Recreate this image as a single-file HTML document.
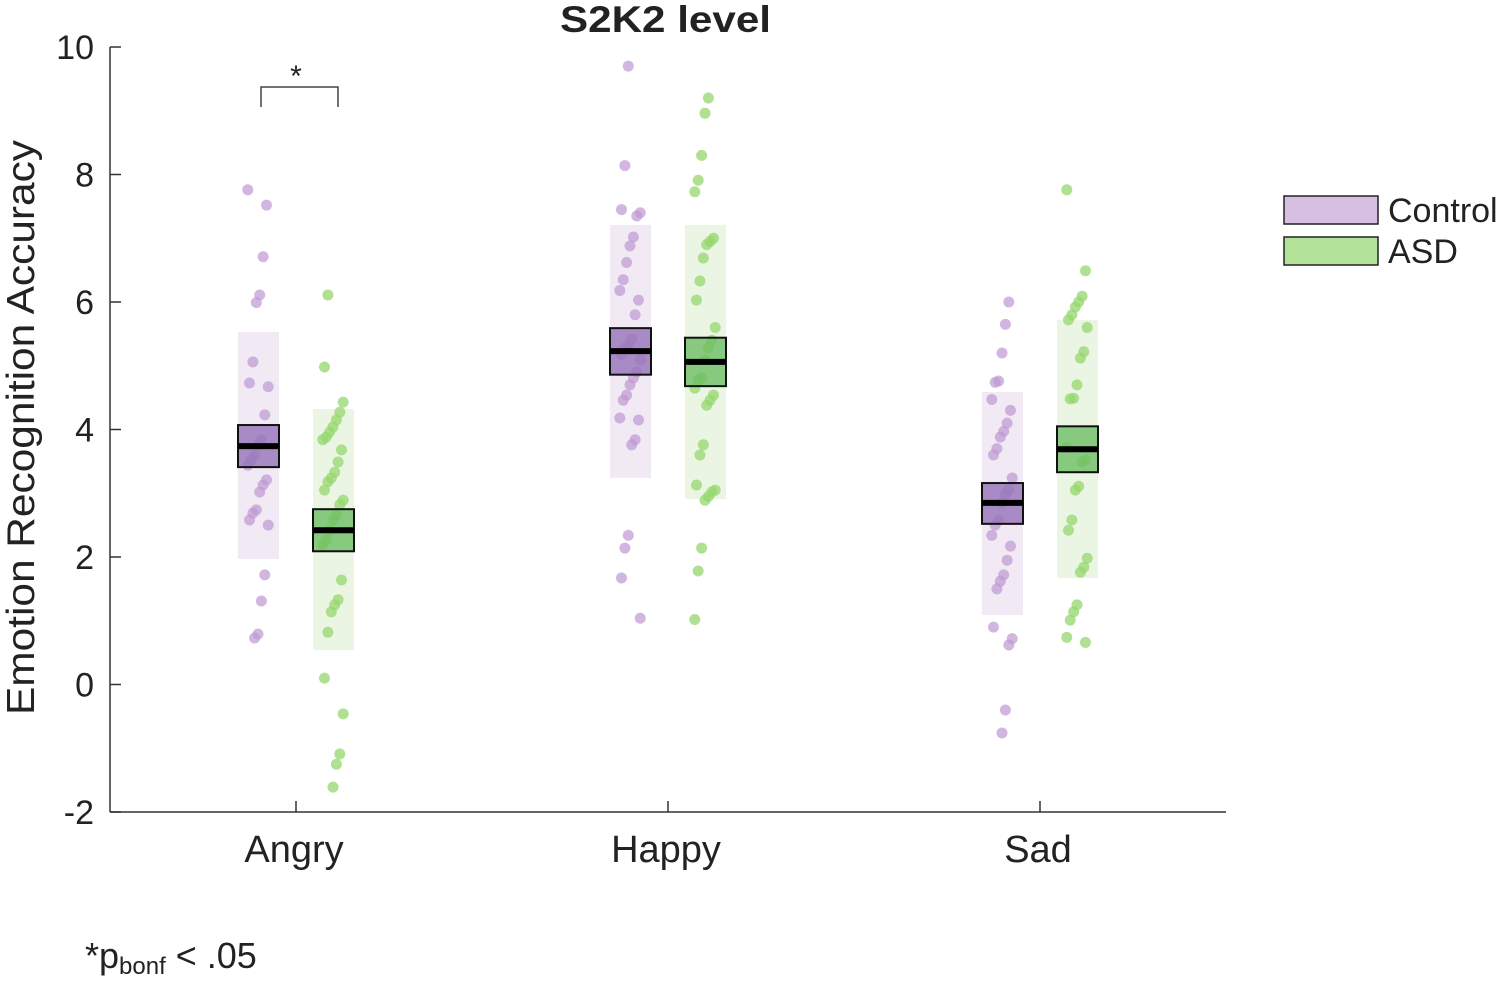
<!DOCTYPE html>
<html><head><meta charset="utf-8"><style>
body{margin:0;background:#fff;font-family:"Liberation Sans",sans-serif}
svg text{font-family:"Liberation Sans",sans-serif;fill:#222}
</style></head><body>
<svg id="chart" width="1499" height="976" xmlns="http://www.w3.org/2000/svg"></svg>
<script>
const categories=["Angry","Happy","Sad"];
const groups=["Control","ASD"];
const yTicks=[-2,0,2,4,6,8,10];
const angryControl=[7.76,7.52,6.71,6.11,5.99,5.06,4.73,4.67,4.23,3.84,3.76,3.60,3.52,3.44,3.21,3.13,3.02,2.74,2.69,2.58,2.50,1.72,1.31,0.79,0.73];
const angryASD=[6.11,4.98,4.43,4.27,4.15,4.04,3.96,3.88,3.84,3.68,3.49,3.33,3.24,3.18,3.05,2.89,2.82,2.66,2.58,2.42,2.27,2.19,1.64,1.33,1.25,1.14,0.82,0.10,-0.46,-1.09,-1.25,-1.61];
const happyControl=[9.70,8.14,7.45,7.40,7.35,7.02,6.88,6.62,6.35,6.18,6.03,5.80,5.42,5.32,5.28,5.17,5.09,4.90,4.81,4.70,4.54,4.46,4.18,4.15,3.84,3.76,2.34,2.14,1.67,1.04];
const happyASD=[9.20,8.96,8.30,7.91,7.73,7.00,6.95,6.90,6.69,6.33,6.03,5.60,5.40,5.28,5.09,4.81,4.78,4.65,4.54,4.46,4.38,3.76,3.60,3.13,3.05,3.02,2.95,2.89,2.14,1.78,1.02];
const sadControl=[6.00,5.65,5.20,4.76,4.74,4.47,4.30,4.10,3.97,3.88,3.70,3.60,3.24,3.05,2.99,2.85,2.58,2.50,2.34,2.17,1.95,1.72,1.62,1.50,0.90,0.72,0.62,-0.40,-0.76];
const sadASD=[7.76,6.49,6.09,6.00,5.92,5.80,5.72,5.60,5.22,5.12,4.70,4.49,4.48,3.72,3.52,3.49,3.11,3.05,2.58,2.42,1.98,1.84,1.76,1.25,1.14,1.01,0.74,0.66];
const pointSets=[[angryControl,angryASD],[happyControl,happyASD],[sadControl,sadASD]];
const means=[[3.74,2.42],[5.23,5.06],[2.85,3.69]];
const semHi=[[4.07,2.75],[5.59,5.44],[3.16,4.05]];
const semLo=[[3.41,2.09],[4.86,4.68],[2.52,3.33]];
const sdHi=[[5.53,4.32],[7.21,7.21],[4.59,5.72]];
const sdLo=[[1.97,0.54],[3.24,2.91],[1.09,1.67]];

const NS="http://www.w3.org/2000/svg";
const svg=document.getElementById("chart");
function el(t,a,txt){const e=document.createElementNS(NS,t);for(const k in a)e.setAttribute(k,a[k]);if(txt!==undefined)e.textContent=txt;svg.appendChild(e);return e;}
const y=v=>684.5-v*63.75;
const xCat=i=>296+i*372;
const gOff=[-38,37];
const ptCol=["rgba(190,152,210,0.7)","rgba(150,215,110,0.75)"];
const shadeCol=["#f1eaf4","#eaf6e3"];
const boxCol=["rgba(150,115,185,0.8)","rgba(110,190,100,0.8)"];

let a=el("line",{x1:110,y1:47,x2:110,y2:812,stroke:"#333","stroke-width":1.5});

a=el("line",{x1:110,y1:812,x2:1226,y2:812,stroke:"#333","stroke-width":1.5});

yTicks.forEach(t=>{
  el("line",{x1:110,y1:y(t),x2:121,y2:y(t),stroke:"#333","stroke-width":1.5});
  const tx=el("text",{x:94,y:y(t)+12,"text-anchor":"end","font-size":34},String(t));
  
  
});
categories.forEach((c,i)=>{
  el("line",{x1:xCat(i),y1:812,x2:xCat(i),y2:801,stroke:"#333","stroke-width":1.5});
  const tx=el("text",{x:xCat(i)-2,y:862,"text-anchor":"middle","font-size":38},c);
  
  
});
categories.forEach((c,i)=>{
  groups.forEach((g,j)=>{
    const cx=xCat(i)+gOff[j];
    const s=el("rect",{x:cx-20,y:y(sdHi[i][j]),width:41,height:y(sdLo[i][j])-y(sdHi[i][j]),fill:shadeCol[j]});
    
    
    pointSets[i][j].forEach((v,k)=>{
      const jit=((k*37+i*5+j*3)%13-6)*1.7;
      const p=el("circle",{cx:cx+jit,cy:y(v),r:5.5,fill:ptCol[j]});
      
      
    });
    const b=el("rect",{x:cx-20,y:y(semHi[i][j]),width:41,height:y(semLo[i][j])-y(semHi[i][j]),fill:boxCol[j],stroke:"#111","stroke-width":2});
    
    
    const m=el("line",{x1:cx-20,y1:y(means[i][j]),x2:cx+21,y2:y(means[i][j]),stroke:"#000","stroke-width":6});
    
    
  });
});
const br=el("path",{d:"M261 107 V87 H338 V107",fill:"none",stroke:"#444","stroke-width":1.5});

const st=el("text",{x:296,y:86,"text-anchor":"middle","font-size":30},"*");

const ti=el("text",{x:560,y:32,"font-size":37,"font-weight":"bold",fill:"#000",textLength:211,lengthAdjust:"spacingAndGlyphs"},"S2K2 level");

const yl=el("text",{x:0,y:0,"font-size":39,transform:"translate(34,715) rotate(-90)",textLength:575,lengthAdjust:"spacingAndGlyphs"},"Emotion Recognition Accuracy");

groups.forEach((g,j)=>{
  const r=el("rect",{x:1284,y:196+j*41,width:94,height:28,fill:j?"#b2e398":"#d6bfe3",stroke:"#222","stroke-width":1.5});
  
  const t=el("text",{x:1388,y:222+j*41,"font-size":34,fill:"#000"},g);
  
});
const fn=el("text",{x:85,y:968,"font-size":36,fill:"#444"});

fn.innerHTML='<tspan>*p</tspan><tspan font-size="24" dy="6">bonf</tspan><tspan dy="-6"> &lt; .05</tspan>';
</script>
</body></html>
